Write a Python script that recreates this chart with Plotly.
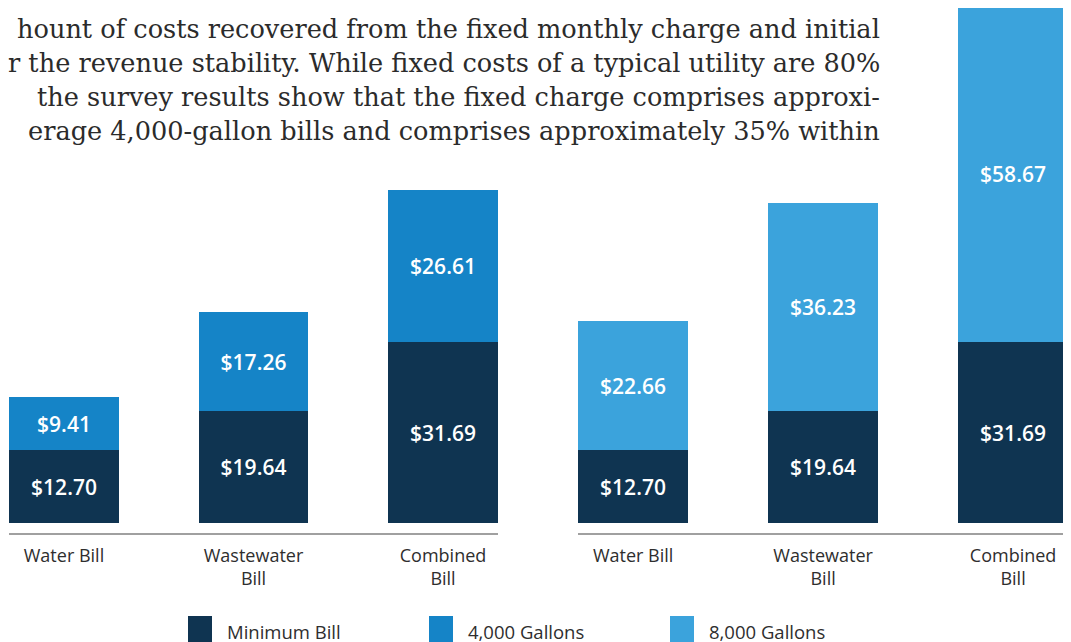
import plotly.graph_objects as go
from plotly.subplots import make_subplots

# bill categories (same for both panels)
categories = ["Water Bill", "Wastewater<br>Bill", "Combined<br>Bill"]

# panel 1: minimum bill + 4,000 gallons
minimum_bill = [12.70, 19.64, 31.69]
gallons_4000 = [9.41, 17.26, 26.61]

# panel 2: minimum bill + 8,000 gallons
gallons_8000 = [22.66, 36.23, 58.67]

series_names = ["Minimum Bill", "4,000 Gallons", "8,000 Gallons"]

# body text above the chart (scanned page)
paragraph = [
    "hount of costs recovered from the fixed monthly charge and initial",
    "r the revenue stability. While fixed costs of a typical utility are 80%",
    "the survey results show that the fixed charge comprises approxi-",
    "erage 4,000-gallon bills and comprises approximately 35% within",
]

NAVY = "#0f3451"
BLUE = "#1584c7"
LIGHT = "#3ba3dc"
FONT = "Open Sans, sans-serif"
TEXT = "#2e2e2e"

W, H = 1071, 642
OFF = 8  # page body margin: figure px = screen px - OFF

fig = make_subplots(rows=1, cols=2, horizontal_spacing=0.0)


def add_bar(y, name, color, col):
    fig.add_trace(go.Bar(
        x=categories, y=y, name=name,
        marker=dict(color=color, line=dict(width=0)),
        width=0.58,
        texttemplate="$%{y:.2f}",
        textposition="inside",
        insidetextanchor="middle",
        textfont=dict(family=FONT, size=21, color="white", weight=600),
        showlegend=False,
    ), row=1, col=col)


add_bar(minimum_bill, series_names[0], NAVY, 1)
add_bar(gallons_4000, series_names[1], BLUE, 1)
add_bar(minimum_bill, series_names[0], NAVY, 2)
add_bar(gallons_8000, series_names[2], LIGHT, 2)

# plot area: top of figure down to grey rule (screen y 533)
plot_bottom = 533 - OFF
px_per_unit = 5.72
y_min = -10 / px_per_unit
y_range = [y_min, plot_bottom / px_per_unit + y_min]

axis_style = dict(
    showline=True, linecolor="#a0a0a0", linewidth=2,
    showgrid=False, zeroline=False, ticks="",
    tickfont=dict(family=FONT, size=18, color=TEXT),
    ticklabelstandoff=5,
)
fig.update_xaxes(**axis_style)
fig.update_xaxes(domain=[(9 - OFF) / W, (498 - OFF) / W], range=[-0.29, 2.29], row=1, col=1)
fig.update_xaxes(domain=[(578 - OFF) / W, 1.0], range=[-0.29, 2.347], row=1, col=2)
fig.update_yaxes(range=y_range, visible=False, showgrid=False, zeroline=False)


def ypaper(screen_y):
    return (plot_bottom - (screen_y - OFF)) / plot_bottom


# custom legend (large swatches)
legend_colors = [NAVY, BLUE, LIGHT]
for i, (name, c) in enumerate(zip(series_names, legend_colors)):
    x0 = 188 + i * 241 - OFF
    fig.add_shape(type="rect", xref="paper", yref="paper",
                  x0=x0 / W, x1=(x0 + 24) / W,
                  y0=ypaper(660), y1=ypaper(616),
                  fillcolor=c, line=dict(width=0))
    fig.add_annotation(text=name, xref="paper", yref="paper",
                       x=(x0 + 37) / W, y=ypaper(631),
                       xanchor="left", yanchor="middle", showarrow=False,
                       font=dict(family=FONT, size=18.5, color=TEXT))

# paragraph text
for i, line in enumerate(paragraph):
    fig.add_annotation(text=line, xref="paper", yref="paper",
                       x=(882 - OFF) / W, y=ypaper(29 + i * 34),
                       xanchor="right", yanchor="middle", showarrow=False,
                       font=dict(family="DejaVu Serif", size=25.6, color="#2b2b2b"))

fig.update_layout(
    width=W, height=H,
    barmode="stack",
    bargap=0.0,
    margin=dict(l=0, r=0, t=0, b=H - plot_bottom),
    paper_bgcolor="white",
    plot_bgcolor="white",
    showlegend=False,
)

fig.write_html("out.html")
